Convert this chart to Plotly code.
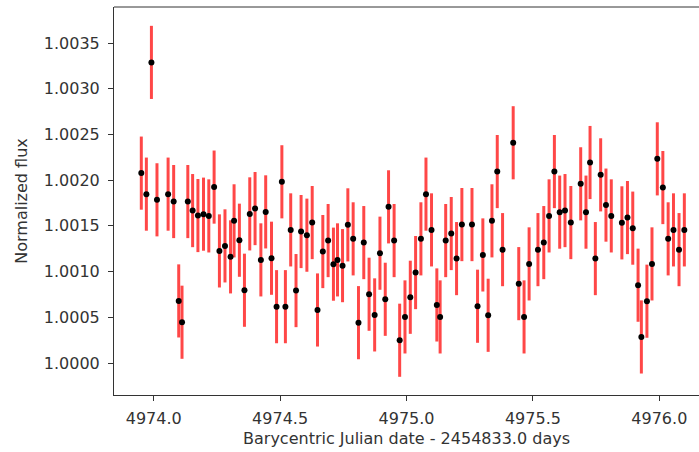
import plotly.graph_objects as go

# Barycentric Julian date - 2454833.0 days
time = [
    4973.951, 4973.971, 4973.991, 4974.013, 4974.057, 4974.079, 4974.099, 4974.112,
    4974.135, 4974.154, 4974.175, 4974.197, 4974.218, 4974.239, 4974.260, 4974.282,
    4974.304, 4974.318, 4974.339, 4974.359, 4974.380, 4974.401, 4974.424, 4974.443,
    4974.466, 4974.486, 4974.507, 4974.521, 4974.542, 4974.563, 4974.583, 4974.606,
    4974.627, 4974.648, 4974.669, 4974.690, 4974.711, 4974.727, 4974.747, 4974.768,
    4974.789, 4974.810, 4974.831, 4974.852, 4974.874, 4974.895, 4974.916, 4974.929,
    4974.951, 4974.973, 4974.994, 4975.015, 4975.036, 4975.057, 4975.077, 4975.099,
    4975.120, 4975.133, 4975.155, 4975.177, 4975.198, 4975.219, 4975.259, 4975.281,
    4975.302, 4975.323, 4975.338, 4975.359, 4975.380, 4975.422, 4975.444, 4975.465,
    4975.485, 4975.520, 4975.543, 4975.564, 4975.585, 4975.606, 4975.627, 4975.650,
    4975.689, 4975.710, 4975.726, 4975.747, 4975.768, 4975.789, 4975.810, 4975.852,
    4975.874, 4975.895, 4975.916, 4975.929, 4975.951, 4975.971, 4975.992, 4976.014,
    4976.035, 4976.056, 4976.078, 4976.099,
]

flux = [
    1.002077, 1.001847, 1.003288, 1.001785, 1.001847, 1.001766, 1.000679, 1.000446,
    1.001766, 1.001667, 1.001613, 1.001628, 1.001609, 1.001924, 1.001226, 1.001281,
    1.001161, 1.001555, 1.001343, 1.000796, 1.001631, 1.001689, 1.001128, 1.001653,
    1.001146, 1.000616, 1.001982, 1.000616, 1.001456, 1.000792, 1.001438, 1.001398,
    1.001536, 1.000580, 1.001219, 1.001339, 1.001081, 1.001128, 1.001065, 1.001511,
    1.001358, 1.000441, 1.001317, 1.000752, 1.000526, 1.001201, 1.000697, 1.001708,
    1.001339, 1.000249, 1.000504, 1.000719, 1.000989, 1.001358, 1.001847, 1.001456,
    1.000635, 1.000504, 1.001339, 1.001416, 1.001142, 1.001514, 1.001514, 1.000621,
    1.001182, 1.000522, 1.001555, 1.002094, 1.001240, 1.002409, 1.000868, 1.000504,
    1.001084, 1.001240, 1.001317, 1.001609, 1.002094, 1.001650, 1.001667, 1.001536,
    1.001960, 1.001650, 1.002193, 1.001142, 1.002058, 1.001727, 1.001609, 1.001533,
    1.001591, 1.001475, 1.000851, 1.000285, 1.000676, 1.001084, 1.002233, 1.001919,
    1.001358, 1.001456, 1.001240, 1.001456,
]

flux_err = [0.0004] * len(flux)

x_ticks = [4974.0, 4974.5, 4975.0, 4975.5, 4976.0]
x_ticktext = ["4974.0", "4974.5", "4975.0", "4975.5", "4976.0"]
y_ticks = [1.0000, 1.0005, 1.0010, 1.0015, 1.0020, 1.0025, 1.0030, 1.0035]
y_ticktext = ["1.0000", "1.0005", "1.0010", "1.0015", "1.0020", "1.0025", "1.0030", "1.0035"]

x_title = "Barycentric Julian date - 2454833.0 days"
y_title = "Normalized flux"

fig = go.Figure()
fig.add_trace(go.Scatter(
    x=time, y=flux, mode="markers",
    marker=dict(color="black", size=6),
    error_y=dict(type="data", array=flux_err, visible=True,
                 color="rgba(255,0,0,0.72)", thickness=3, width=0),
    showlegend=False,
))

font = dict(family="DejaVu Sans", size=16, color="#333333")
axis_common = dict(
    showline=True, linecolor="#333333", linewidth=1,
    ticks="outside", ticklen=5, tickwidth=1, tickcolor="#333333",
    showgrid=False, zeroline=False, tickfont=font,
)

fig.update_layout(
    width=699, height=452,
    margin=dict(l=114, r=0, t=7, b=57),
    plot_bgcolor="white", paper_bgcolor="white",
    font=font,
    xaxis=dict(range=[4973.843, 4976.157], tickvals=x_ticks, ticktext=x_ticktext,
               ticklabelstandoff=4,
               title=dict(text=x_title, font=font, standoff=5), **axis_common),
    yaxis=dict(range=[0.99965, 1.003894], tickvals=y_ticks, ticktext=y_ticktext,
               ticklabelstandoff=5,
               title=dict(text=y_title, font=font, standoff=12), **axis_common),
    shapes=[dict(type="line", xref="paper", yref="paper", x0=0, x1=1, y0=1, y1=1,
                 line=dict(color="#333333", width=1))],
)

fig.write_html("out.html")
